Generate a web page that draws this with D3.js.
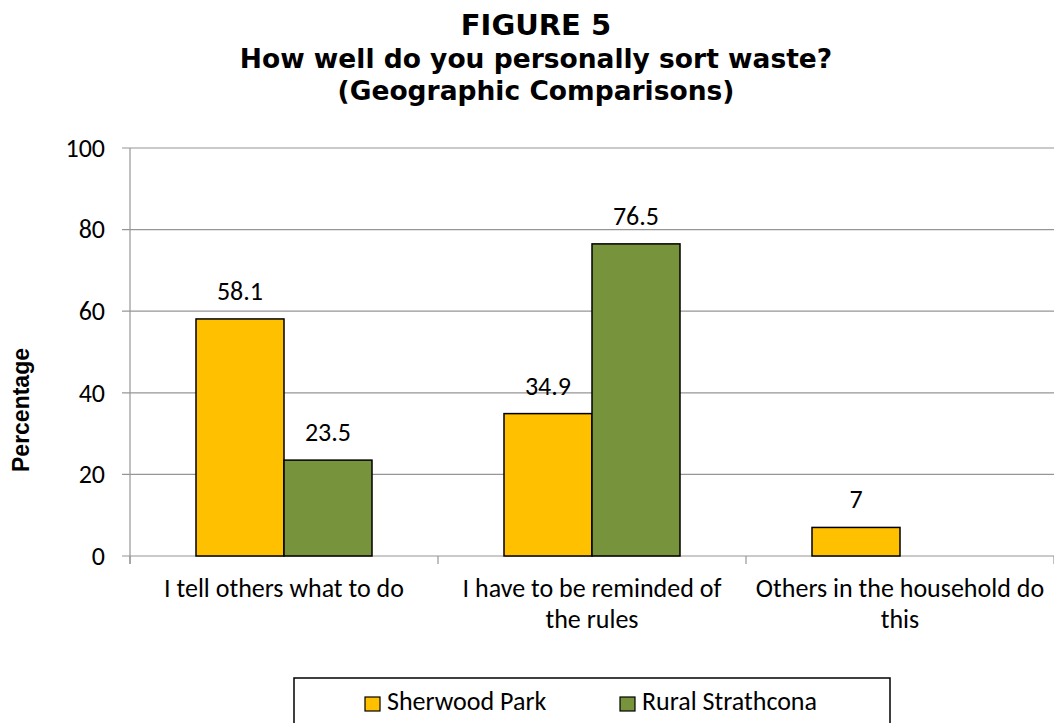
<!DOCTYPE html>
<html>
<head>
<meta charset="utf-8">
<script src="https://cdn.jsdelivr.net/npm/d3@7"></script>
<style>
  html, body { margin: 0; padding: 0; background: #fff; }
  svg { display: block; }
</style>
</head>
<body>
<script>
// ---- data ----
const categories = ["I tell others what to do", "I have to be reminded of the rules", "Others in the household do this"];
const categoryLines = [["I tell others what to do"], ["I have to be reminded of", "the rules"], ["Others in the household do", "this"]];
const seriesNames = ["Sherwood Park", "Rural Strathcona"];
const sherwoodPark = [58.1, 34.9, 7];
const ruralStrathcona = [23.5, 76.5, null];
const yTicks = [0, 20, 40, 60, 80, 100];
const titleLines = ["FIGURE 5", "How well do you personally sort waste?", "(Geographic Comparisons)"];
const yAxisTitle = "Percentage";
const colors = ["#FFC000", "#77933C"];

const W = 1054, H = 723;
const bodyFont = "Calibri, Carlito, Lato, sans-serif";
const bodySize = 26;

const svg = d3.select("body").append("svg").attr("width", W).attr("height", H);
svg.append("rect").attr("width", W).attr("height", H).attr("fill", "#fff");

const plot = { left: 130, right: 1054, top: 148, bottom: 556 };

const x0 = d3.scaleBand().domain(categories).range([plot.left, plot.right]).padding(0);
const x1 = d3.scaleBand().domain(seriesNames).range([0, x0.bandwidth()]).paddingInner(0).paddingOuter(0.75);
const y = d3.scaleLinear().domain([0, 100]).range([plot.bottom, plot.top]);

// title
const titleSizes = [29, 26.5, 26.5];
svg.append("g").selectAll("text").data(titleLines).join("text")
  .attr("x", 536).attr("y", (d, i) => 35 + i * 32.5)
  .attr("text-anchor", "middle")
  .attr("font-family", "Verdana, 'DejaVu Sans', sans-serif")
  .attr("font-weight", "bold").attr("font-size", (d, i) => titleSizes[i])
  .attr("fill", "#000").text(d => d);

// gridlines
svg.append("g").selectAll("line").data(yTicks).join("line")
  .attr("x1", plot.left - 8).attr("x2", plot.right)
  .attr("y1", d => y(d)).attr("y2", d => y(d))
  .attr("stroke", "#969696").attr("stroke-width", 1.2);

// y axis line
svg.append("line").attr("x1", plot.left).attr("x2", plot.left)
  .attr("y1", plot.top).attr("y2", plot.bottom + 8)
  .attr("stroke", "#969696").attr("stroke-width", 1.2);

// y tick labels
svg.append("g").selectAll("text").data(yTicks).join("text")
  .attr("x", 105).attr("y", d => y(d)).attr("dy", "0.34em")
  .attr("text-anchor", "end")
  .attr("font-family", bodyFont).attr("font-size", bodySize)
  .attr("fill", "#000").text(d => d);

// x category ticks
const boundaries = categories.map(c => x0(c)).concat([plot.right]);
svg.append("g").selectAll("line").data(boundaries).join("line")
  .attr("x1", d => d).attr("x2", d => d)
  .attr("y1", plot.bottom).attr("y2", plot.bottom + 8)
  .attr("stroke", "#969696").attr("stroke-width", 1.2);

// bars
const seriesData = [sherwoodPark, ruralStrathcona];
const barData = [];
categories.forEach((c, ci) => {
  seriesNames.forEach((s, si) => {
    const v = seriesData[si][ci];
    if (v !== null && v !== undefined) barData.push({ c, s, si, v });
  });
});

svg.append("g").selectAll("rect").data(barData).join("rect")
  .attr("x", d => x0(d.c) + x1(d.s))
  .attr("y", d => y(d.v))
  .attr("width", x1.bandwidth())
  .attr("height", d => y(0) - y(d.v))
  .attr("fill", d => colors[d.si])
  .attr("stroke", "#000").attr("stroke-width", 1.5);

// data labels
svg.append("g").selectAll("text").data(barData).join("text")
  .attr("x", d => x0(d.c) + x1(d.s) + x1.bandwidth() / 2)
  .attr("y", d => y(d.v) - 19)
  .attr("text-anchor", "middle")
  .attr("font-family", bodyFont).attr("font-size", bodySize)
  .attr("fill", "#000").text(d => d.v);

// category labels
const catG = svg.append("g");
categories.forEach((c, ci) => {
  catG.append("g").selectAll("text").data(categoryLines[ci]).join("text")
    .attr("x", x0(c) + x0.bandwidth() / 2)
    .attr("y", (d, i) => 597 + i * 30.5)
    .attr("text-anchor", "middle")
    .attr("font-family", bodyFont).attr("font-size", bodySize)
    .attr("fill", "#000").text(d => d);
});

// y axis title
svg.append("text")
  .attr("transform", "translate(29,410) rotate(-90)")
  .attr("text-anchor", "middle")
  .attr("font-family", "Arial, 'Liberation Sans', sans-serif")
  .attr("font-weight", "bold").attr("font-size", 23)
  .attr("fill", "#000").text(yAxisTitle);

// legend
svg.append("rect").attr("x", 294).attr("y", 678).attr("width", 596).attr("height", 60)
  .attr("fill", "#fff").attr("stroke", "#000").attr("stroke-width", 1.5);
const legX = [365, 620];
const lg = svg.append("g").selectAll("g").data(seriesNames).join("g")
  .attr("transform", (d, i) => `translate(${legX[i]},697)`);
lg.append("rect").attr("width", 15).attr("height", 14)
  .attr("fill", (d, i) => colors[i]).attr("stroke", "#000").attr("stroke-width", 1.2);
lg.append("text").attr("x", 22).attr("y", 13)
  .attr("font-family", bodyFont).attr("font-size", bodySize)
  .attr("fill", "#000").text(d => d);
</script>
</body>
</html>
